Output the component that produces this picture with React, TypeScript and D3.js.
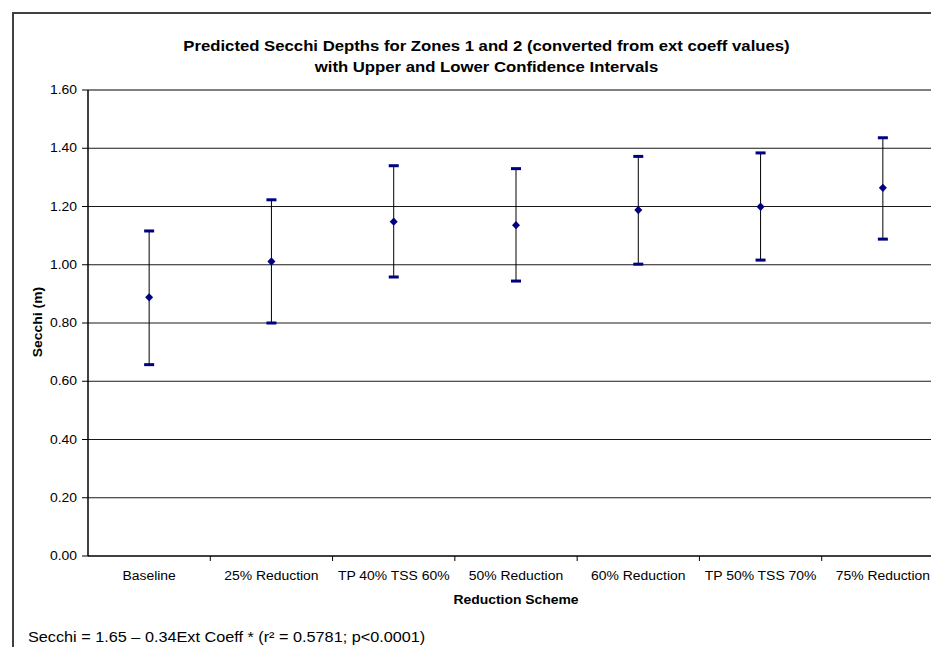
import React from 'react';
import * as d3 from 'd3';

// Secchi depth predictions (m) per reduction scheme
const categories = [
  'Baseline',
  '25% Reduction',
  'TP 40% TSS 60%',
  '50% Reduction',
  '60% Reduction',
  'TP 50% TSS 70%',
  '75% Reduction',
];
const predicted = [0.888, 1.011, 1.148, 1.136, 1.188, 1.199, 1.264];
const upperCI = [1.116, 1.223, 1.34, 1.33, 1.372, 1.384, 1.436];
const lowerCI = [0.657, 0.8, 0.958, 0.944, 1.002, 1.016, 1.088];
const yTicks = [0, 0.2, 0.4, 0.6, 0.8, 1.0, 1.2, 1.4, 1.6];

const W = 931;
const H = 647;
const plot = { left: 88, right: 944, top: 90, bottom: 556 };
const FONT = '"Liberation Sans", Arial, sans-serif';
const SX = 1.16; // text in the source renders a little wider than Arial

const navy = '#000080';

const T = ({ x, y, size, bold, anchor = 'middle', rotate = 0, sx = SX, children }: any) => (
  <text
    transform={`translate(${x},${y}) rotate(${rotate}) scale(${sx},1)`}
    fontSize={size}
    fontWeight={bold ? 'bold' : 'normal'}
    textAnchor={anchor}
    fontFamily={FONT}
    fill="#000"
  >
    {children}
  </text>
);

export default function App() {
  const x = d3.scaleBand().domain(categories).range([plot.left, plot.right]);
  const y = d3.scaleLinear().domain([0, 1.6]).range([plot.bottom, plot.top]);
  const fmt = d3.format('.2f');
  const bw = x.bandwidth();

  const rows = categories.map((c, i) => ({
    c,
    cx: (x(c) as number) + bw / 2,
    p: predicted[i],
    hi: upperCI[i],
    lo: lowerCI[i],
  }));

  return (
    <svg
      width={W}
      height={H}
      style={{ position: 'absolute', left: 0, top: 0, background: '#fff' }}
    >
      <rect x={0} y={0} width={W} height={H} fill="#fff" />
      {/* chart area border */}
      <rect x={13} y={13} width={960} height={660} fill="none" stroke="#404040" strokeWidth={2} />

      {/* title */}
      <T x={486.5} y={51} size={14} bold sx={1.195}>
        Predicted Secchi Depths for Zones 1 and 2 (converted from ext coeff values)
      </T>
      <T x={486.5} y={72} size={14} bold sx={1.195}>
        with Upper and Lower Confidence Intervals
      </T>

      {/* gridlines */}
      {yTicks.slice(1, -1).map((t) => (
        <line key={t} x1={plot.left} x2={plot.right} y1={y(t)} y2={y(t)} stroke="#1a1a1a" strokeWidth={1} />
      ))}
      {/* plot area top border */}
      <line x1={plot.left} x2={plot.right} y1={y(1.6)} y2={y(1.6)} stroke="#808080" strokeWidth={2} />

      {/* y axis */}
      <line x1={plot.left} x2={plot.left} y1={plot.top} y2={plot.bottom} stroke="#000" strokeWidth={1.5} />
      {yTicks.map((t) => (
        <g key={t}>
          <line x1={plot.left - 6} x2={plot.left} y1={y(t)} y2={y(t)} stroke="#000" />
          <T x={77} y={y(t) + 4} size={12} anchor="end">
            {fmt(t)}
          </T>
        </g>
      ))}

      {/* x axis */}
      <line x1={plot.left} x2={plot.right} y1={plot.bottom} y2={plot.bottom} stroke="#000" strokeWidth={1.5} />
      {categories.map((c) => (
        <line
          key={c}
          x1={(x(c) as number) + bw}
          x2={(x(c) as number) + bw}
          y1={plot.bottom}
          y2={plot.bottom + 5}
          stroke="#000"
        />
      ))}
      {rows.map((r) => (
        <T key={r.c} x={r.cx} y={579.5} size={12}>
          {r.c}
        </T>
      ))}

      {/* error bars and points */}
      {rows.map((r) => (
        <g key={r.c}>
          <line x1={r.cx} x2={r.cx} y1={y(r.hi)} y2={y(r.lo)} stroke="#000" strokeWidth={1} />
          <rect x={r.cx - 5} y={y(r.hi) - 1.5} width={10} height={3} fill={navy} />
          <rect x={r.cx - 5} y={y(r.lo) - 1.5} width={10} height={3} fill={navy} />
          <path
            d={`M${r.cx},${y(r.p) - 4.2}L${r.cx + 4},${y(r.p)}L${r.cx},${y(r.p) + 4.2}L${r.cx - 4},${y(r.p)}Z`}
            fill={navy}
          />
        </g>
      ))}

      {/* axis titles */}
      <T x={41.5} y={322} size={12} bold rotate={-90}>
        Secchi (m)
      </T>
      <T x={(plot.left + plot.right) / 2} y={604} size={12} bold>
        Reduction Scheme
      </T>

      {/* footnote */}
      <T x={28} y={642} size={14} anchor="start">
        Secchi = 1.65 – 0.34Ext Coeff * (r² = 0.5781; p&lt;0.0001)
      </T>
    </svg>
  );
}
